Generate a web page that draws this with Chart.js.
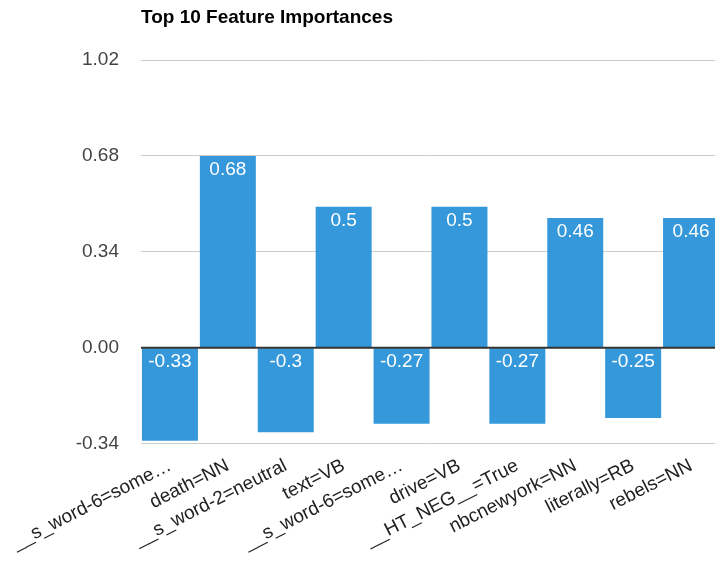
<!DOCTYPE html>
<html>
<head>
<meta charset="utf-8">
<title>Top 10 Feature Importances</title>
<script src="https://cdn.jsdelivr.net/npm/chart.js@4.4.1/dist/chart.umd.min.js"></script>
<style>
  html, body { margin: 0; padding: 0; background: #fff; overflow: hidden; }
  #wrap { width: 715px; height: 563px; overflow: hidden; position: relative; }
  canvas { display: block; }
</style>
</head>
<body>
<div id="wrap"><canvas id="chart" width="720" height="563"></canvas></div>
<script>
// Feature names (as truncated on the axis) and their importance weights
const categories = [
  '__s_word-6=some…',
  'death=NN',
  '__s_word-2=neutral',
  'text=VB',
  '__s_word-6=some…',
  'drive=VB',
  '__HT_NEG__=True',
  'nbcnewyork=NN',
  'literally=RB',
  'rebels=NN'
];
const importances = [-0.33, 0.68, -0.3, 0.5, -0.27, 0.5, -0.27, 0.46, -0.25, 0.46];
const yTicks = [-0.34, 0.00, 0.34, 0.68, 1.02];

const FONT = "Arial, 'Liberation Sans', Helvetica, sans-serif";
const BAR_BLUE = '#3598db';

// Dark baseline at zero, drawn above the bars
const zeroLine = {
  id: 'zeroLine',
  afterDatasetsDraw(chart) {
    const { ctx, chartArea, scales } = chart;
    const y = scales.y.getPixelForValue(0);
    ctx.save();
    ctx.strokeStyle = '#333';
    ctx.lineWidth = 2;
    ctx.beginPath();
    ctx.moveTo(chartArea.left, y);
    ctx.lineTo(chartArea.right, y);
    ctx.stroke();
    ctx.restore();
  }
};

// White value labels just inside the upper edge of each bar
const valueLabels = {
  id: 'valueLabels',
  afterDatasetsDraw(chart) {
    const { ctx } = chart;
    const meta = chart.getDatasetMeta(0);
    const values = chart.data.datasets[0].data;
    ctx.save();
    ctx.fillStyle = '#fff';
    ctx.font = '19px ' + FONT;
    ctx.textAlign = 'center';
    ctx.textBaseline = 'middle';
    meta.data.forEach((bar, i) => {
      const top = Math.min(bar.y, bar.base);
      ctx.fillText(String(values[i]), bar.x, top + 14);
    });
    ctx.restore();
  }
};

new Chart(document.getElementById('chart'), {
  type: 'bar',
  data: {
    labels: categories,
    datasets: [{
      data: importances,
      backgroundColor: BAR_BLUE,
      borderWidth: 0,
      barPercentage: 0.967,
      categoryPercentage: 1.0
    }]
  },
  options: {
    responsive: false,
    animation: false,
    layout: { padding: 0 },
    plugins: {
      legend: { display: false },
      tooltip: { enabled: false },
      title: {
        display: true,
        text: 'Top 10 Feature Importances',
        align: 'start',
        fullSize: false,
        color: '#000',
        font: { family: FONT, size: 19, weight: 'bold', lineHeight: 1.2 },
        padding: { top: 6, bottom: 31.2 }
      }
    },
    scales: {
      x: {
        grid: { display: false, drawTicks: false },
        border: { display: false },
        ticks: {
          autoSkip: false,
          minRotation: 27,
          maxRotation: 27,
          padding: 11,
          color: '#222',
          font: { family: FONT, size: 19 }
        },
        afterFit(scale) {
          scale.height = 119.5;
          // rotated labels may run off the left edge, as they do on the page
          scale.paddingLeft = 0;
          scale.paddingRight = 0;
        }
      },
      y: {
        min: -0.34,
        max: 1.02,
        afterBuildTicks(scale) {
          scale.ticks = yTicks.map(v => ({ value: v }));
        },
        grid: {
          drawTicks: false,
          color: ctx => (ctx.tick && ctx.tick.value === 0) ? 'rgba(0,0,0,0)' : '#cccccc',
          lineWidth: 1
        },
        border: { display: false },
        ticks: {
          padding: 22,
          color: '#444',
          font: { family: FONT, size: 19 },
          callback: v => Number(v).toFixed(2)
        },
        afterFit(scale) { scale.width = 141; }
      }
    }
  },
  plugins: [zeroLine, valueLabels]
});
</script>
</body>
</html>
